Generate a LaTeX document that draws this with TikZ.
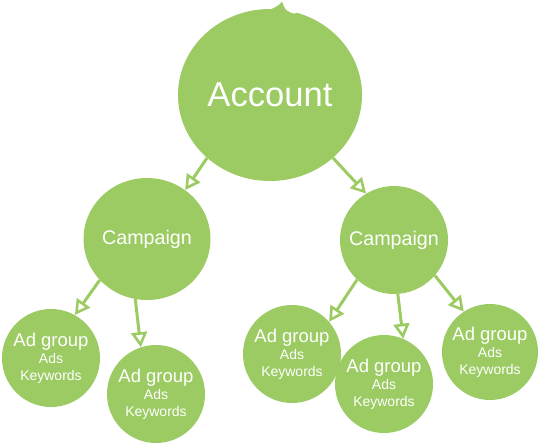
\documentclass[tikz,border=0pt]{standalone}
\usepackage{fontspec}
\setmainfont{Liberation Sans}
\usetikzlibrary{arrows.meta,shapes.geometric}
\definecolor{leaf}{RGB}{155,203,98}
\newcommand{\adgroupText}{Ad group\\{\fontsize{14}{17}\selectfont Ads}\\{\fontsize{14}{17}\selectfont Keywords}}
\tikzset{
  blob/.style={fill=leaf,text=white,inner sep=0pt},
  adgroup/.style={blob,circle,minimum size=98pt,align=center,font=\fontsize{18.5}{17}\selectfont},
  campaign/.style={blob,font=\fontsize{19.7}{22}\selectfont},
  link/.style={leaf,line width=3pt,-{Triangle[open,length=15pt,width=16pt,line width=2.6pt]}}
}

\begin{document}
\begin{tikzpicture}[x=1pt,y=-1pt]
\useasboundingbox (0,0) rectangle (538,442);
\node (acc) at (270,95) [blob,ellipse,minimum width=184pt,minimum height=172pt,font=\fontsize{34.6}{40}\selectfont] {Account};
\fill [leaf] (264,11) .. controls (274,9) and (280,5) .. (282,1.5) .. controls (284,8) and (287,13) .. (293,14) -- (293,20) -- (264,20) -- cycle;
\fill [white] (282.5,1.5) .. controls (284.5,8) and (287.5,12.5) .. (294,13.5) .. controls (297,13.5) .. (300,12) -- (300,0) -- cycle;
\node (campL) at (147,239) [campaign,ellipse,minimum width=114pt,minimum height=122pt] {Campaign};
\node (campR) at (394,240) [campaign,circle,minimum size=108pt] {Campaign};
\node (adL1) at (51,358) [adgroup] {\adgroupText};
\node (adL2) at (156,394) [adgroup] {\adgroupText};
\node (adR1) at (292,354) [adgroup] {\adgroupText};
\node (adR2) at (384,384) [adgroup] {\adgroupText};
\node (adR3) at (490,352) [adgroup,minimum size=96pt] {\adgroupText};
\draw [link] (acc.225) -- (campL.52);
\draw [link] (acc.315) -- (campR.121);
\draw [link] (campL.221) -- (adL1.61);
\draw [link] (campL.259) -- (adL2.108);
\draw [link] (campR.227) -- (adR1.41);
\draw [link] (campR.274) -- (adR2.67);
\draw [link] (campR.319) -- (adR3.123);
\end{tikzpicture}
\end{document}
